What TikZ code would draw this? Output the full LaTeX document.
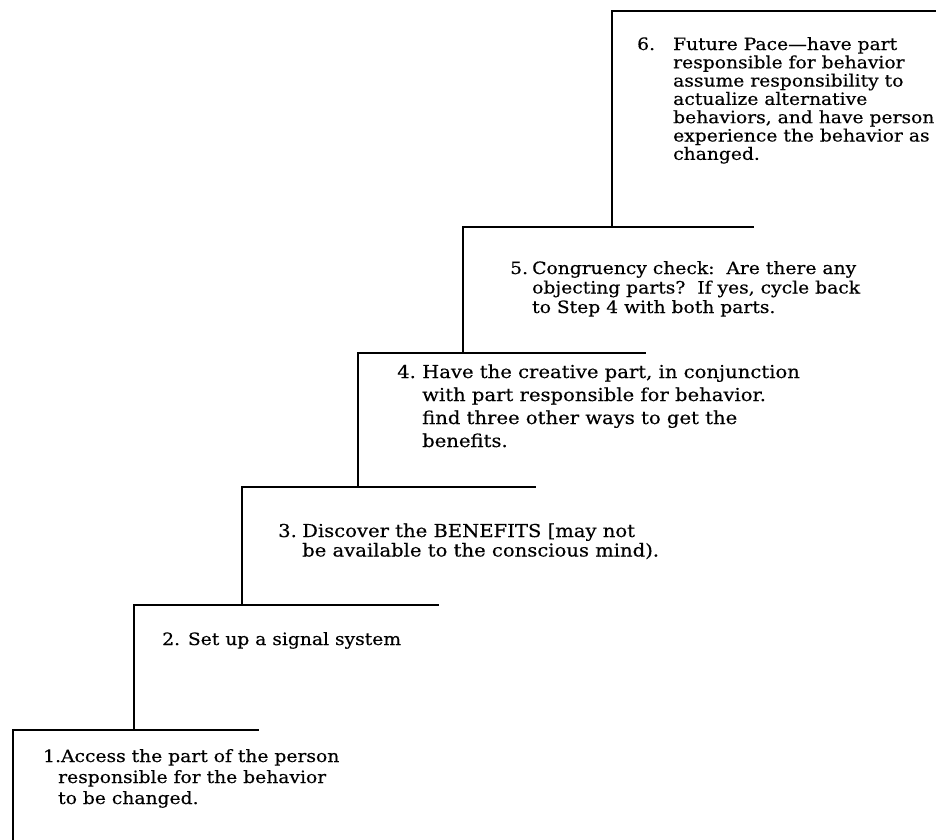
\documentclass[tikz,border=0pt]{standalone}
\usepackage{fontspec}
\setmainfont[FakeStretch=1.1,FakeBold=0.4]{DejaVu Serif}
\begin{document}
\begin{tikzpicture}[x=1pt,y=-1pt]
\tikzset{
  stair/.style={line width=1.6pt, line cap=rect},
  steptext/.style={anchor=base west, inner sep=0pt, font=\fontsize{17}{19}\selectfont},
  bigtext/.style={steptext, font=\fontsize{17.8}{19}\selectfont},
}
\useasboundingbox (0,0) rectangle (950,839);
% stair lines
\coordinate (s6a) at (612,11);  \coordinate (s6b) at (935,11);
\coordinate (s5a) at (463,227); \coordinate (s5b) at (753,227); \coordinate (s5c) at (612,227);
\coordinate (s4a) at (358,353); \coordinate (s4b) at (645,353); \coordinate (s4c) at (463,353);
\coordinate (s3a) at (242,487); \coordinate (s3b) at (535,487); \coordinate (s3c) at (358,487);
\coordinate (s2a) at (134,605); \coordinate (s2b) at (438,605); \coordinate (s2c) at (242,605);
\coordinate (s1a) at (13,730);  \coordinate (s1b) at (258,730); \coordinate (s1c) at (134,730);
\coordinate (s0c) at (13,839);
\draw[stair] (s6b) -- (s6a) -- (s5c);
\draw[stair] (s5b) -- (s5a) -- (s4c);
\draw[stair] (s4b) -- (s4a) -- (s3c);
\draw[stair] (s3b) -- (s3a) -- (s2c);
\draw[stair] (s2b) -- (s2a) -- (s1c);
\draw[stair] (s1b) -- (s1a) -- (s0c);
% step 6
\node[steptext] (n6) at (637,50) {6.};
\node[steptext] (t6) at (673,50) {\vtop{\baselineskip=18.3pt
  \hbox{Future Pace—have part}
  \hbox{responsible for behavior}
  \hbox{assume responsibility to}
  \hbox{actualize alternative}
  \hbox{behaviors, and have person}
  \hbox{experience the behavior as}
  \hbox{changed.}}};
% step 5
\node[steptext] (n5) at (510,274) {5.};
\node[steptext] (t5) at (532,274) {\vtop{\baselineskip=19.5pt
  \hbox{Congruency check:\ \ Are there any}
  \hbox{objecting parts?\ \ If yes, cycle back}
  \hbox{to Step 4 with both parts.}}};
% step 4
\node[bigtext] (n4) at (397,378) {4.};
\node[bigtext] (t4) at (422,378) {\vtop{\baselineskip=23pt
  \hbox{Have the creative part, in conjunction}
  \hbox{with part responsible for behavior.}
  \hbox{find three other ways to get the}
  \hbox{benefits.}}};
% step 3
\node[bigtext] (n3) at (278,537) {3.};
\node[bigtext] (t3) at (302,537) {\vtop{\baselineskip=19.5pt
  \hbox{Discover the BENEFITS [may not}
  \hbox{be available to the conscious mind).}}};
% step 2
\node[steptext] (t2) at (162,645) {2. Set up a signal system};
% step 1
\node[steptext] (t1) at (43,762) {\vtop{\baselineskip=21pt
  \hbox{1.Access the part of the person}
  \hbox{\kern15pt responsible for the behavior}
  \hbox{\kern15pt to be changed.}}};
\end{tikzpicture}
\end{document}
